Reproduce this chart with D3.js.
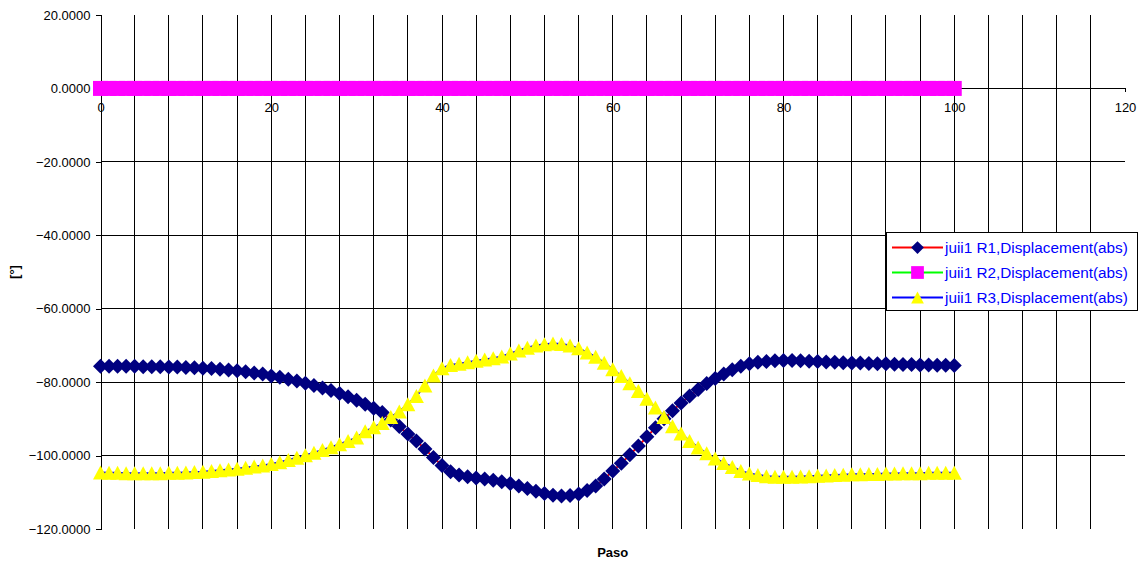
<!DOCTYPE html>
<html>
<head>
<meta charset="utf-8">
<script src="https://cdn.jsdelivr.net/npm/d3@7"></script>
<style>
  html, body { margin: 0; padding: 0; background: #fff; }
  svg { display: block; font-family: "Liberation Sans", Arial, sans-serif; }
</style>
</head>
<body>
<svg id="chart" width="1141" height="563"></svg>
<script>
// Joint rotation per step (degrees)
const r1 = [
  -75.7, -75.7, -75.7, -75.7, -75.7, -75.8, -75.8, -75.8, -75.9, -75.9,
  -76.0, -76.1, -76.2, -76.3, -76.5, -76.7, -76.9, -77.2, -77.5, -77.8,
  -78.3, -78.7, -79.2, -79.7, -80.3, -80.9, -81.6, -82.3, -83.1, -84.0,
  -84.9, -86.0, -87.1, -88.3, -90.3, -92.1, -94.1, -96.0, -98.2, -100.5,
  -102.7, -104.4, -105.3, -105.8, -106.1, -106.4, -106.7, -107.1, -107.6, -108.3,
  -109.0, -109.7, -110.3, -110.8, -111.0, -110.9, -110.5, -109.5, -108.3, -106.4,
  -104.2, -102.1, -99.8, -97.4, -94.9, -92.4, -90.0, -87.8, -85.7, -83.8,
  -82.0, -80.4, -79.0, -77.8, -76.6, -75.7, -75.0, -74.6, -74.4, -74.2,
  -74.1, -74.1, -74.2, -74.3, -74.4, -74.5, -74.6, -74.7, -74.8, -74.8,
  -74.9, -75.0, -75.0, -75.1, -75.2, -75.2, -75.3, -75.3, -75.4, -75.4,
  -75.5
];
const r2 = [
  0, 0, 0, 0, 0, 0, 0, 0, 0, 0,
  0, 0, 0, 0, 0, 0, 0, 0, 0, 0,
  0, 0, 0, 0, 0, 0, 0, 0, 0, 0,
  0, 0, 0, 0, 0, 0, 0, 0, 0, 0,
  0, 0, 0, 0, 0, 0, 0, 0, 0, 0,
  0, 0, 0, 0, 0, 0, 0, 0, 0, 0,
  0, 0, 0, 0, 0, 0, 0, 0, 0, 0,
  0, 0, 0, 0, 0, 0, 0, 0, 0, 0,
  0, 0, 0, 0, 0, 0, 0, 0, 0, 0,
  0, 0, 0, 0, 0, 0, 0, 0, 0, 0,
  0
];
const r3 = [
  -104.6, -104.7, -104.7, -104.8, -104.8, -104.8, -104.8, -104.8, -104.7, -104.7,
  -104.6, -104.5, -104.4, -104.2, -104.0, -103.8, -103.6, -103.3, -103.0, -102.7,
  -102.3, -101.8, -101.2, -100.6, -99.9, -99.2, -98.5, -97.7, -96.9, -96.0,
  -95.1, -93.4, -92.3, -91.1, -89.5, -88.0, -86.0, -83.8, -80.9, -78.2,
  -76.2, -75.3, -75.0, -74.6, -74.2, -73.8, -73.5, -73.0, -72.2, -71.4,
  -70.6, -70.0, -69.7, -69.5, -69.6, -70.0, -70.8, -71.9, -73.1, -74.7,
  -76.5, -78.3, -80.3, -82.4, -84.5, -86.9, -89.5, -92.0, -94.0, -96.0,
  -97.8, -99.4, -100.8, -102.0, -103.1, -104.2, -104.9, -105.3, -105.6, -105.8,
  -105.8, -105.8, -105.7, -105.6, -105.5, -105.4, -105.3, -105.2, -105.1, -105.1,
  -105.0, -105.0, -104.9, -104.9, -104.8, -104.8, -104.8, -104.7, -104.7, -104.7,
  -104.7
];

const seriesNames = [
  "juii1 R1,Displacement(abs)",
  "juii1 R2,Displacement(abs)",
  "juii1 R3,Displacement(abs)"
];
const xTicks = [0, 20, 40, 60, 80, 100, 120];
const xGrid = [4, 8, 12, 16, 20, 24, 28, 32, 36, 40, 44, 48, 52, 56, 60, 64, 68, 72, 76, 80, 84, 88, 92, 96, 100, 104, 108, 112, 116];
const yTicks = [20, 0, -20, -40, -60, -80, -100, -120];
const yGrid = [-20, -40, -60, -80, -100];
const xTitle = "Paso";
const yTitle = "[°]";

const svg = d3.select("#chart");
const x = d3.scaleLinear().domain([0, 120]).range([100.5, 1125]);
const y = d3.scaleLinear().domain([-120, 20]).range([529, 15]);
const fmt = d3.format(".4f");

// Gridlines
const grid = svg.append("g").attr("stroke", "#000").attr("stroke-width", 1).attr("shape-rendering", "crispEdges");
grid.selectAll("line.v").data(xGrid).join("line")
  .attr("x1", d => x(d)).attr("x2", d => x(d))
  .attr("y1", y(20)).attr("y2", y(-120));
grid.selectAll("line.h").data(yGrid).join("line")
  .attr("x1", x(0)).attr("x2", x(120))
  .attr("y1", d => y(d)).attr("y2", d => y(d));

// Y axis on the left, X axis crossing at zero
const yAxis = d3.axisLeft(y).tickValues(yTicks).tickFormat(fmt).tickSize(5).tickPadding(5);
const gy = svg.append("g").attr("transform", `translate(${x(0)},0)`).call(yAxis);
gy.select(".domain").attr("stroke", "#000").attr("shape-rendering", "crispEdges");
gy.selectAll(".tick line").attr("stroke", "#000").attr("shape-rendering", "crispEdges");
gy.selectAll("text").attr("font-size", "13px").attr("fill", "#000")
  .attr("font-family", "'Liberation Sans', Arial, sans-serif");

const xAxis = d3.axisBottom(x).tickValues(xTicks).tickSize(4).tickPadding(10).tickSizeOuter(0);
const gx = svg.append("g").attr("transform", `translate(0,${y(0)})`).call(xAxis);
gx.select(".domain").attr("stroke", "#000").attr("shape-rendering", "crispEdges");
gx.selectAll(".tick line").attr("stroke", "#000").attr("shape-rendering", "crispEdges");
gx.selectAll("text").attr("font-size", "13px").attr("fill", "#000")
  .attr("font-family", "'Liberation Sans', Arial, sans-serif");

// Axis titles
svg.append("text").attr("x", (x(0) + x(120)) / 2).attr("y", 557)
  .attr("text-anchor", "middle").attr("font-size", "13px").attr("font-weight", "bold")
  .text(xTitle);
svg.append("text").attr("transform", `translate(19,${(y(20) + y(-120)) / 2}) rotate(-90)`)
  .attr("text-anchor", "middle").attr("font-size", "13px").attr("font-weight", "bold")
  .text(yTitle);

// Marker shapes
const diamond = s => `M0,${-7.5 * s}L${7.5 * s},0L0,${7.5 * s}L${-7.5 * s},0Z`;
const square = s => `M${-7.5 * s},${-7.5 * s}H${7.5 * s}V${7.5 * s}H${-7.5 * s}Z`;
const triangle = s => `M0,${-7 * s}L${7.5 * s},${7 * s}L${-7.5 * s},${7 * s}Z`;

const series = [
  { name: seriesNames[0], values: r1, line: "#FF0000", fill: "#000080", shape: diamond },
  { name: seriesNames[1], values: r2, line: "#00FF00", fill: "#FF00FF", shape: square },
  { name: seriesNames[2], values: r3, line: "#0000FF", fill: "#FFFF00", shape: triangle }
];

const lineGen = d3.line().x((d, i) => x(i)).y(d => y(d));
series.forEach(s => {
  const g = svg.append("g");
  g.append("path").attr("d", lineGen(s.values))
    .attr("fill", "none").attr("stroke", s.line).attr("stroke-width", 2);
  g.selectAll("path.m").data(s.values).join("path").attr("class", "m")
    .attr("transform", (d, i) => `translate(${x(i)},${y(d)})`)
    .attr("d", s.shape(1)).attr("fill", s.fill);
});

// Legend
const lg = svg.append("g");
lg.append("rect").attr("x", 886.5).attr("y", 232.5).attr("width", 251).attr("height", 78)
  .attr("fill", "#fff").attr("stroke", "#000").attr("stroke-width", 1);
const rowsY = [247.5, 272.5, 297.5];
series.forEach((s, k) => {
  const ry = rowsY[k];
  lg.append("line").attr("x1", 892).attr("x2", 943).attr("y1", ry).attr("y2", ry)
    .attr("stroke", s.line).attr("stroke-width", 2);
  lg.append("path").attr("transform", `translate(917.5,${ry})`)
    .attr("d", s.shape(0.85)).attr("fill", s.fill);
  lg.append("text").attr("x", 945).attr("y", ry).attr("dy", "0.36em")
    .attr("font-size", "15.3px").attr("fill", "#0000FF").text(s.name);
});
</script>
</body>
</html>
